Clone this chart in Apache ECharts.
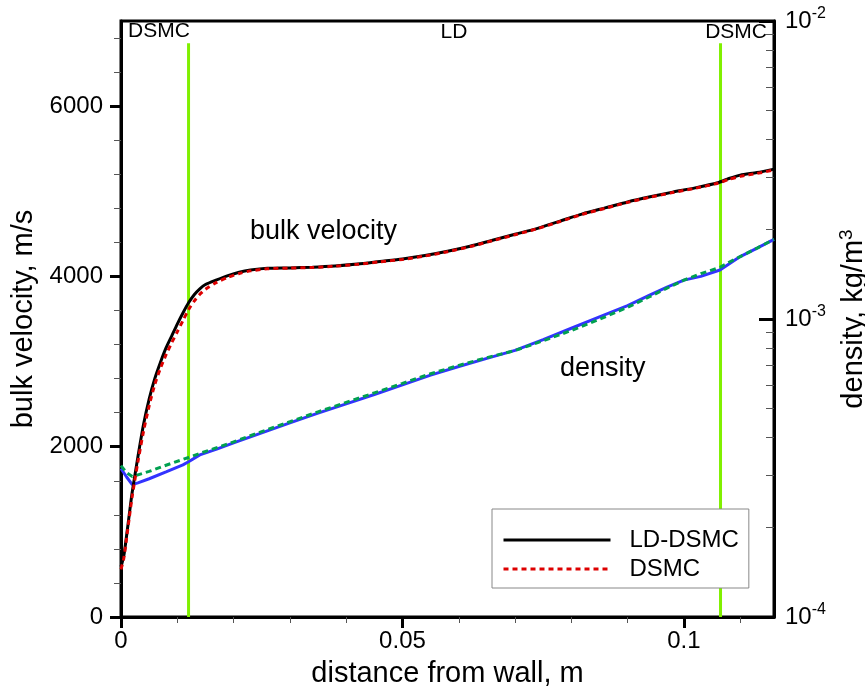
<!DOCTYPE html>
<html><head><meta charset="utf-8">
<script src="https://cdn.jsdelivr.net/npm/echarts@6/dist/echarts.min.js"></script>
<style>html,body{margin:0;padding:0;background:#fff}#c{width:865px;height:694px}</style>
</head><body><div id="c"></div>
<script>
// ---- data ----
const velX = [0, 0.0005, 0.001, 0.0015, 0.002, 0.003, 0.004, 0.005, 0.006, 0.007, 0.008, 0.009, 0.010, 0.011, 0.012, 0.013, 0.014, 0.015, 0.017, 0.019, 0.021, 0.023, 0.026, 0.030, 0.034, 0.038, 0.042, 0.046, 0.050, 0.054, 0.058, 0.062, 0.066, 0.070, 0.074, 0.078, 0.082, 0.086, 0.090, 0.094, 0.098, 0.102, 0.106, 0.108, 0.110, 0.113, 0.116];
const velLD = [590, 720, 960, 1220, 1470, 1880, 2260, 2560, 2800, 2990, 3160, 3300, 3440, 3570, 3690, 3785, 3855, 3905, 3960, 4010, 4050, 4075, 4095, 4100, 4108, 4122, 4145, 4175, 4205, 4245, 4295, 4355, 4425, 4495, 4565, 4650, 4735, 4805, 4875, 4935, 4990, 5040, 5100, 5150, 5190, 5220, 5260];
const velDS = [560, 690, 930, 1180, 1420, 1820, 2180, 2480, 2730, 2920, 3080, 3220, 3350, 3480, 3610, 3710, 3790, 3850, 3930, 3990, 4035, 4065, 4090, 4098, 4105, 4120, 4142, 4172, 4200, 4240, 4290, 4350, 4420, 4490, 4562, 4645, 4730, 4800, 4870, 4930, 4985, 5035, 5095, 5140, 5175, 5210, 5250];
const denX = [0, 0.001, 0.002, 0.003, 0.005, 0.008, 0.011, 0.012, 0.014, 0.017, 0.020, 0.025, 0.030, 0.035, 0.040, 0.045, 0.050, 0.055, 0.060, 0.065, 0.070, 0.075, 0.080, 0.085, 0.090, 0.094, 0.097, 0.100, 0.103, 0.1064, 0.108, 0.110, 0.113, 0.116];
const denLD = [3.15e-4, 2.95e-4, 2.78e-4, 2.82e-4, 2.91e-4, 3.07e-4, 3.24e-4, 3.32e-4, 3.50e-4, 3.66e-4, 3.84e-4, 4.15e-4, 4.48e-4, 4.83e-4, 5.19e-4, 5.58e-4, 6.01e-4, 6.48e-4, 6.93e-4, 7.38e-4, 7.85e-4, 8.53e-4, 9.31e-4, 1.016e-3, 1.109e-3, 1.205e-3, 1.28e-3, 1.35e-3, 1.39e-3, 1.46e-3, 1.53e-3, 1.62e-3, 1.73e-3, 1.85e-3];
const denDS = [3.22e-4, 3.05e-4, 2.96e-4, 3.00e-4, 3.08e-4, 3.23e-4, 3.38e-4, 3.43e-4, 3.54e-4, 3.70e-4, 3.87e-4, 4.19e-4, 4.52e-4, 4.88e-4, 5.25e-4, 5.65e-4, 6.08e-4, 6.55e-4, 6.99e-4, 7.42e-4, 7.84e-4, 8.45e-4, 9.15e-4, 9.98e-4, 1.095e-3, 1.19e-3, 1.27e-3, 1.35e-3, 1.42e-3, 1.49e-3, 1.55e-3, 1.62e-3, 1.73e-3, 1.85e-3];
const regionBounds = [0.012, 0.1065];
const boundTop = 6740;
const xTicks = [0, 0.05, 0.1];
const xMinor = [0.01, 0.02, 0.03, 0.04, 0.06, 0.07, 0.08, 0.09, 0.11];
const yTicks = [0, 2000, 4000, 6000];
const yMinor = [400, 800, 1200, 1600, 2400, 2800, 3200, 3600, 4400, 4800, 5200, 5600, 6400, 6800];
const rTicks = [1e-4, 1e-3, 1e-2];
const rMinor = [2e-4, 3e-4, 4e-4, 5e-4, 6e-4, 7e-4, 8e-4, 9e-4, 2e-3, 3e-3, 4e-3, 5e-3, 6e-3, 7e-3, 8e-3, 9e-3];
const regionLabels = ['DSMC', 'LD', 'DSMC'];

const zip = (xs, ys) => xs.map((x, i) => [x, ys[i]]);
const FONT = 'Liberation Sans, Arial, sans-serif';
const chart = echarts.init(document.getElementById('c'), null, {renderer: 'canvas'});

const boundSeries = regionBounds.map(b => ({
  type: 'line', name: 'bound', data: [[b, 0], [b, boundTop]], symbol: 'none',
  lineStyle: {color: '#80f000', width: 3}, z: 1, silent: true
}));

chart.setOption({
  animation: false,
  grid: {left: 121, right: 91, top: 21, bottom: 77, containLabel: false, outerBoundsMode: 'none',
    show: true, borderColor: '#000', borderWidth: 3, backgroundColor: 'transparent'},
  legend: {
    data: ['LD-DSMC', 'DSMC'], orient: 'vertical', left: 492, top: 509,
    padding: [18, 10, 6, 10], itemGap: 3, itemWidth: 107, itemHeight: 14,
    borderColor: '#888', borderWidth: 1, backgroundColor: '#fff',
    itemStyle: {opacity: 0},
    lineStyle: {width: 3},
    textStyle: {fontFamily: FONT, fontSize: 24, color: '#000', lineHeight: 26, padding: [0, 0, 0, 14]}
  },
  xAxis: [{
    type: 'value', min: 0, max: 0.116, position: 'bottom',
    name: 'distance from wall, m', nameLocation: 'middle', nameGap: 42,
    nameTextStyle: {fontFamily: FONT, fontSize: 29, color: '#000'},
    axisLine: {lineStyle: {color: '#000', width: 3}},
    axisTick: {customValues: xTicks, length: 11, lineStyle: {color: '#000', width: 3}},
    axisLabel: {customValues: xTicks, margin: 12, fontFamily: FONT, fontSize: 24, color: '#000', formatter: v => String(+(+v).toFixed(3))},
    splitLine: {show: false}
  }, {
    type: 'value', min: 0, max: 0.116, position: 'bottom', gridIndex: 0,
    axisLine: {show: false},
    axisTick: {customValues: xMinor, length: 6, lineStyle: {color: '#555', width: 1}},
    axisLabel: {show: false}, splitLine: {show: false}
  }],
  yAxis: [{
    type: 'value', min: 0, max: 7000, position: 'left',
    name: 'bulk velocity, m/s', nameLocation: 'middle', nameGap: 80, nameRotate: 90,
    nameTextStyle: {fontFamily: FONT, fontSize: 29, color: '#000'},
    axisLine: {lineStyle: {color: '#000', width: 3}},
    axisTick: {customValues: yTicks, length: 11, lineStyle: {color: '#000', width: 3}},
    axisLabel: {customValues: yTicks, margin: 18, fontFamily: FONT, fontSize: 24, color: '#000', formatter: v => String(Math.round(v))},
    splitLine: {show: false}
  }, {
    type: 'value', min: 0, max: 7000, position: 'left',
    axisLine: {show: false},
    axisTick: {customValues: yMinor, length: 7, lineStyle: {color: '#555', width: 1}},
    axisLabel: {show: false}, splitLine: {show: false}
  }, {
    type: 'log', logBase: 10, min: 1e-4, max: 1e-2, position: 'right',
    name: 'density, kg/m{sup|3}', nameLocation: 'middle', nameGap: 57, nameRotate: 90,
    nameTextStyle: {fontFamily: FONT, fontSize: 29, color: '#000', rich: {sup: {fontFamily: FONT, fontSize: 19, color: '#000', padding: [0, 0, 16, 0]}}},
    axisLine: {lineStyle: {color: '#000', width: 3}},
    axisTick: {customValues: rTicks, inside: true, length: 15, lineStyle: {color: '#000', width: 3}},
    axisLabel: {customValues: rTicks, margin: 11, fontFamily: FONT, fontSize: 24, color: '#000',
      formatter: v => '{b|10}{s|' + Math.round(Math.log10(v)) + '}',
      rich: {b: {fontFamily: FONT, fontSize: 24, color: '#000'}, s: {fontFamily: FONT, fontSize: 16, color: '#000', padding: [0, 0, 14, 0]}}},
    splitLine: {show: false}
  }, {
    type: 'log', logBase: 10, min: 1e-4, max: 1e-2, position: 'right',
    axisLine: {show: false},
    axisTick: {customValues: rMinor, inside: true, length: 8, lineStyle: {color: '#555', width: 1}},
    axisLabel: {show: false}, splitLine: {show: false}
  }],
  series: [
    ...boundSeries,
    {type: 'line', name: 'LD-DSMC density', data: zip(denX, denLD), yAxisIndex: 2, symbol: 'none', lineStyle: {color: '#3333ff', width: 3}, z: 3},
    {type: 'line', name: 'DSMC density', data: zip(denX, denDS), yAxisIndex: 2, symbol: 'none', lineStyle: {color: '#00a050', width: 3, type: [6, 4]}, z: 4},
    {type: 'line', name: 'LD-DSMC', data: zip(velX, velLD), symbol: 'none', smooth: 0.25, color: '#000', lineStyle: {color: '#000', width: 3}, z: 5},
    {type: 'line', name: 'DSMC', data: zip(velX, velDS), symbol: 'none', smooth: 0.25, color: '#dd0000', lineStyle: {color: '#dd0000', width: 3, type: [5, 4]}, z: 6}
  ],
  graphic: [
    {type: 'text', left: 128, top: 21, style: {text: regionLabels[0], font: '21px ' + FONT, fill: '#000'}},
    {type: 'text', x: 454, y: 32, style: {text: regionLabels[1], font: '21px ' + FONT, fill: '#000', align: 'center', verticalAlign: 'middle'}},
    {type: 'text', x: 767, y: 32, style: {text: regionLabels[2], font: '21px ' + FONT, fill: '#000', align: 'right', verticalAlign: 'middle'}},
    {type: 'text', x: 250, y: 232, style: {text: 'bulk velocity', font: '27px ' + FONT, fill: '#000', verticalAlign: 'middle'}},
    {type: 'text', x: 560, y: 369, style: {text: 'density', font: '27px ' + FONT, fill: '#000', verticalAlign: 'middle'}}
  ]
});
</script></body></html>
